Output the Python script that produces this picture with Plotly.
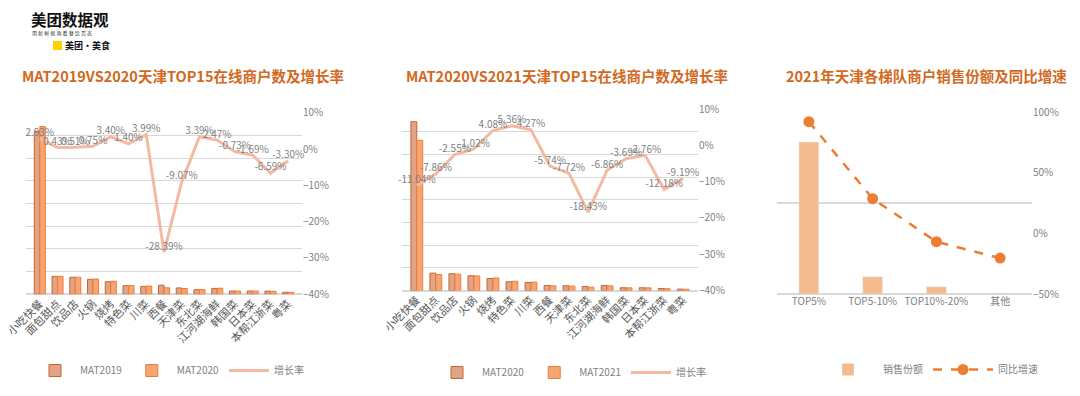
import plotly.graph_objects as go

cats = ["小吃快餐", "面包甜点", "饮品店", "火锅", "烧烤", "特色菜", "川菜", "西餐",
        "天津菜", "东北菜", "江河湖海鲜", "韩国菜", "日本菜", "本帮江浙菜", "粤菜"]
mat2019 = [7180, 790, 750, 660, 555, 380, 350, 400, 280, 200, 260, 145, 145, 140, 90]
mat2020_a = [7390, 793, 754, 672, 574, 385, 364, 286, 255, 207, 266, 144, 144, 131, 87]
growth_a = [2.93, 0.43, 0.51, 0.75, 3.40, 1.40, 3.99, -28.39, -9.07, 3.39, 2.47, -0.73, -1.69, -6.59, -3.30]

mat2020_b = [7440, 765, 740, 650, 530, 385, 355, 220, 210, 180, 220, 120, 120, 90, 60]
mat2021 = [6620, 705, 721, 643, 552, 406, 370, 207, 194, 147, 205, 116, 117, 79, 54]
growth_b = [-11.04, -7.86, -2.55, -1.02, 4.08, 5.36, 4.27, -5.74, -7.72, -18.43, -6.86, -3.69, -2.76, -12.18, -9.19]

tiers = ["TOP5%", "TOP5-10%", "TOP10%-20%", "其他"]
share = [83.5, 9.5, 4.0, 0.5]
yoy = [92, 28.6, -6.9, -20.4]

FONT = "Noto Sans CJK SC"
GRAY = "#7F7F7F"
OFF = 8  # page body margin
W, H = 1080 - OFF, 396 - OFF


def fx(px):
    return (px - OFF) / W


def fy(py):
    return 1 - (py - OFF) / H


fig = go.Figure()

# ---------- left chart ----------
fig.add_trace(go.Bar(x=cats, y=mat2019, name="MAT2019", xaxis="x", yaxis="y",
                     marker=dict(color="#E2A488", line=dict(color="#C5672E", width=1)),
                     legend="legend", offsetgroup="a1"))
fig.add_trace(go.Bar(x=cats, y=mat2020_a, name="MAT2020", xaxis="x", yaxis="y",
                     marker=dict(color="#F6A676", line=dict(color="#EE7D33", width=1)),
                     legend="legend", offsetgroup="a2"))
fig.add_trace(go.Scatter(x=cats, y=growth_a, name="增长率", xaxis="x", yaxis="y2",
                         mode="lines+text", line=dict(color="#F5B9A1", width=3),
                         text=[f"{v:.2f}%" for v in growth_a], textposition="top center",
                         textfont=dict(size=10, color=GRAY, family=FONT),
                         legend="legend", cliponaxis=False))

# ---------- middle chart ----------
fig.add_trace(go.Bar(x=cats, y=mat2020_b, name="MAT2020", xaxis="x2", yaxis="y3",
                     marker=dict(color="#E2A488", line=dict(color="#C5672E", width=1)),
                     legend="legend2", offsetgroup="b1"))
fig.add_trace(go.Bar(x=cats, y=mat2021, name="MAT2021", xaxis="x2", yaxis="y3",
                     marker=dict(color="#F6A676", line=dict(color="#EE7D33", width=1)),
                     legend="legend2", offsetgroup="b2"))
fig.add_trace(go.Scatter(x=cats, y=growth_b, name="增长率", xaxis="x2", yaxis="y4",
                         mode="lines+text", line=dict(color="#F5B9A1", width=3),
                         text=[f"{v:.2f}%" for v in growth_b], textposition="top center",
                         textfont=dict(size=10, color=GRAY, family=FONT),
                         legend="legend2", cliponaxis=False))

# ---------- right chart ----------
fig.add_trace(go.Bar(x=tiers, y=share, name="销售份额", xaxis="x3", yaxis="y5",
                     marker=dict(color="#F4BB8F"), width=0.31, legend="legend3"))
fig.add_trace(go.Scatter(x=tiers, y=yoy, name="同比增速", xaxis="x3", yaxis="y6",
                         mode="lines+markers",
                         line=dict(color="#ED7D31", width=2.5, dash="dash"),
                         marker=dict(size=11, color="#ED7D31"),
                         legend="legend3", cliponaxis=False))

grid = "#D9D9D9"
tickf = dict(size=10, color=GRAY, family=FONT)
catf = dict(size=11, color="#595959", family=FONT)
legf = dict(size=10, color=GRAY, family=FONT)

layout = dict(
    width=W, height=H,
    margin=dict(l=0, r=0, t=0, b=0, autoexpand=False),
    paper_bgcolor="white", plot_bgcolor="white",
    font=dict(family=FONT, color=GRAY),
    barmode="group", bargap=0.38, bargroupgap=0,
    # left
    xaxis=dict(domain=[fx(26), fx(302)], anchor="y", tickangle=-45, tickfont=catf,
               showline=False, ticks="", automargin=False, showgrid=False),
    yaxis=dict(domain=[fy(294.3), fy(112.7)], range=[0, 8000], dtick=1000,
               showticklabels=False, showgrid=True, gridcolor=grid, gridwidth=1,
               zeroline=True, zerolinecolor=grid, anchor="x", automargin=False),
    yaxis2=dict(overlaying="y", side="right", anchor="x", range=[-40, 10], dtick=10,
                ticksuffix="%", showgrid=False, zeroline=False, tickfont=tickf,
                automargin=False),
    # middle
    xaxis2=dict(domain=[fx(402), fx(698)], anchor="y3", tickangle=-45, tickfont=catf,
                showline=False, ticks="", automargin=False, showgrid=False),
    yaxis3=dict(domain=[fy(290.5), fy(109)], range=[0, 8000], dtick=1000,
                showticklabels=False, showgrid=True, gridcolor=grid, gridwidth=1,
                zeroline=True, zerolinecolor=grid, anchor="x2", automargin=False),
    yaxis4=dict(overlaying="y3", side="right", anchor="x2", range=[-40, 10], dtick=10,
                ticksuffix="%", showgrid=False, zeroline=False, tickfont=tickf,
                automargin=False),
    # right
    xaxis3=dict(domain=[fx(777), fx(1032)], anchor="y5", tickfont=tickf,
                showline=False, ticks="", automargin=False, showgrid=False),
    yaxis5=dict(domain=[fy(294), fy(112)], range=[0, 100], dtick=50,
                showticklabels=False, showgrid=True, gridcolor=grid, gridwidth=1.5,
                zeroline=True, zerolinecolor=grid, anchor="x3", automargin=False),
    yaxis6=dict(overlaying="y5", side="right", anchor="x3", range=[-50, 100], dtick=50,
                ticksuffix="%", showgrid=False, zeroline=False, tickfont=tickf,
                automargin=False),
    legend=dict(orientation="h", x=fx(30), y=fy(356), xanchor="left", yanchor="top",
                font=legf, bgcolor="rgba(0,0,0,0)", itemwidth=40, traceorder="normal"),
    legend2=dict(orientation="h", x=fx(432), y=fy(358), xanchor="left", yanchor="top",
                 font=legf, bgcolor="rgba(0,0,0,0)", itemwidth=40, traceorder="normal"),
    legend3=dict(orientation="h", x=fx(813), y=fy(355), xanchor="left", yanchor="top",
                 font=legf, bgcolor="rgba(0,0,0,0)", itemwidth=60, traceorder="normal"),
    showlegend=True,
)
fig.update_layout(**layout)

title_font = dict(size=14.5, color="#D2691E", family=FONT)
titles = [
    ("<b>MAT2019VS2020天津TOP15在线商户数及增长率</b>", 183),
    ("<b>MAT2020VS2021天津TOP15在线商户数及增长率</b>", 567),
    ("<b>2021年天津各梯队商户销售份额及同比增速</b>", 926),
]
for t, cx in titles:
    fig.add_annotation(text=t, x=fx(cx), y=fy(75), xref="paper", yref="paper",
                       xanchor="center", yanchor="middle", showarrow=False, font=title_font)

# logo
fig.add_annotation(text="<b>美团数据观</b>", x=fx(29), y=fy(19), xref="paper", yref="paper",
                   xanchor="left", yanchor="middle", showarrow=False,
                   font=dict(size=15.5, color="#111111", family=FONT))
fig.add_annotation(text="用 新 鲜 视 角 看 餐 饮 百 态", x=fx(30), y=fy(33), xref="paper", yref="paper",
                   xanchor="left", yanchor="middle", showarrow=False,
                   font=dict(size=5, color="#333333", family=FONT))
fig.add_shape(type="rect", xref="paper", yref="paper", x0=fx(53), x1=fx(62), y0=fy(50), y1=fy(41),
              fillcolor="#FFD100", line=dict(width=0))
fig.add_annotation(text="<b>美团·美食</b>", x=fx(63), y=fy(45.5), xref="paper", yref="paper",
                   xanchor="left", yanchor="middle", showarrow=False,
                   font=dict(size=9, color="#111111", family=FONT))

fig.write_html("out.html")
